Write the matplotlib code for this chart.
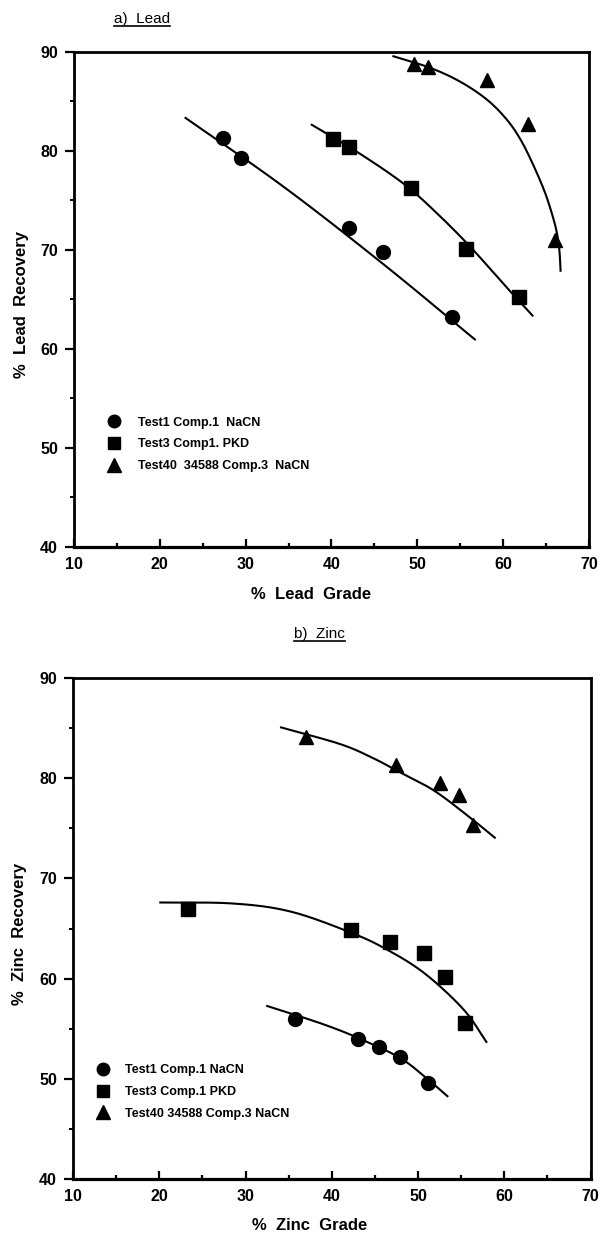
import numpy as np
import matplotlib
matplotlib.use("Agg")
import matplotlib.pyplot as plt
from matplotlib.lines import Line2D
from matplotlib.ticker import MultipleLocator
from matplotlib.font_manager import FontProperties

plt.rcParams["font.family"] = ["Liberation Sans", "DejaVu Sans"]
plt.rcParams["font.weight"] = "bold"

# ---------------- a) Lead ----------------
lead_t1_grade = [27.4, 29.5, 42.0, 46.0, 54.0]
lead_t1_rec = [81.3, 79.3, 72.2, 69.8, 63.2]
lead_t3_grade = [40.2, 42.1, 49.3, 55.7, 61.8]
lead_t3_rec = [81.2, 80.4, 76.3, 70.1, 65.3]
lead_t40_grade = [49.6, 51.3, 58.1, 62.9, 66.0]
lead_t40_rec = [88.8, 88.5, 87.2, 82.7, 71.0]

# grade-recovery trend curves
lead_t1_curve_x = [22.9, 34.4, 46.0, 56.8]
lead_t1_curve_y = [83.4, 76.4, 68.6, 60.9]
lead_t3_curve_x = [37.6, 43.0, 48.4, 52.3, 56.2, 59.7, 61.6, 63.5]
lead_t3_curve_y = [82.7, 79.9, 76.7, 73.7, 70.3, 66.9, 65.1, 63.3]
lead_t40_curve_x = [47.1, 51.5, 55.0, 58.1, 60.4, 62.0, 63.4, 64.7, 65.5, 66.2, 66.55, 66.7]
lead_t40_curve_y = [89.6, 88.4, 87.0, 85.2, 83.2, 81.2, 78.8, 76.2, 74.2, 72.0, 70.0, 67.8]

# ---------------- b) Zinc ----------------
zinc_t1_grade = [35.7, 43.0, 45.5, 47.9, 51.2]
zinc_t1_rec = [56.0, 54.0, 53.2, 52.2, 49.6]
zinc_t3_grade = [23.3, 42.2, 46.8, 50.7, 53.1, 55.5]
zinc_t3_rec = [66.9, 64.9, 63.7, 62.6, 60.2, 55.6]
zinc_t40_grade = [37.0, 47.5, 52.6, 54.8, 56.4]
zinc_t40_rec = [84.1, 81.3, 79.5, 78.3, 75.3]

zinc_t1_curve_x = [32.4, 35.7, 39.5, 43.0, 47.9, 51.2, 53.5]
zinc_t1_curve_y = [57.3, 56.4, 55.3, 54.1, 52.1, 49.9, 48.2]
zinc_t3_curve_x = [20.0, 28.5, 35.2, 42.2, 46.4, 50.8, 55.3, 58.0]
zinc_t3_curve_y = [67.6, 67.5, 66.7, 64.6, 62.9, 60.5, 56.9, 53.6]
zinc_t40_curve_x = [34.0, 41.0, 44.8, 47.9, 51.8, 55.7, 59.0]
zinc_t40_curve_y = [85.1, 83.4, 82.0, 80.6, 78.8, 76.3, 74.0]

lead_labels = ["Test1 Comp.1  NaCN", "Test3 Comp1. PKD", "Test40  34588 Comp.3  NaCN"]
zinc_labels = ["Test1 Comp.1 NaCN", "Test3 Comp.1 PKD", "Test40 34588 Comp.3 NaCN"]
tick_vals = [10, 20, 30, 40, 50, 60, 70]
rec_ticks = [40, 50, 60, 70, 80, 90]

markers = ["o", "s", "^"]
msizes = [10, 9.5, 10.5]
legend_family = ["Liberation Sans Narrow", "Liberation Sans", "DejaVu Sans"]


def smooth_path(xs, ys, steps=24):
    """Catmull-Rom curve passing through the given trend-line points."""
    p = np.column_stack([xs, ys]).astype(float)
    p = np.vstack([2 * p[0] - p[1], p, 2 * p[-1] - p[-2]])
    out = []
    t = np.linspace(0, 1, steps, endpoint=False)[:, None]
    for i in range(1, len(p) - 2):
        p0, p1, p2, p3 = p[i - 1], p[i], p[i + 1], p[i + 2]
        seg = 0.5 * ((2 * p1) + (-p0 + p2) * t
                     + (2 * p0 - 5 * p1 + 4 * p2 - p3) * t ** 2
                     + (-p0 + 3 * p1 - 3 * p2 + p3) * t ** 3)
        out.append(seg)
    out.append(p[-2][None, :])
    out = np.vstack(out)
    return out[:, 0], out[:, 1]


fig = plt.figure(figsize=(6, 12.35), dpi=100)
ax1 = fig.add_axes([0.1233, 0.5571, 0.8583, 0.4008])
ax2 = fig.add_axes([0.1217, 0.0453, 0.8625, 0.4057])


def style_axes(ax):
    ax.set_xlim(10, 70)
    ax.set_ylim(40, 90)
    ax.set_xticks(tick_vals)
    ax.set_yticks(rec_ticks)
    ax.xaxis.set_minor_locator(MultipleLocator(5))
    ax.yaxis.set_minor_locator(MultipleLocator(5))
    for s in ax.spines.values():
        s.set_linewidth(2.0)
    ax.spines["bottom"].set_linewidth(2.3)
    ax.tick_params(axis="x", which="major", direction="in", length=6, width=1.6,
                   pad=7, labelsize=11.5)
    ax.tick_params(axis="x", which="minor", direction="in", length=3, width=1.6)
    ax.tick_params(axis="y", which="major", direction="out", length=6.5, width=1.6,
                   pad=5, labelsize=11.5)
    ax.tick_params(axis="y", which="minor", direction="out", length=3, width=1.4)


def draw_panel(ax, series, curves, labels, legend_anchor, textpad):
    for (gx, gy), m, ms in zip(series, markers, msizes):
        ax.plot(gx, gy, linestyle="none", marker=m, markersize=ms, color="black",
                zorder=3, clip_on=False)
    for cx, cy in curves:
        sx, sy = smooth_path(cx, cy)
        ax.plot(sx, sy, color="black", linewidth=1.5, zorder=2,
                solid_capstyle="butt")
    handles = [Line2D([], [], linestyle="none", marker=m, markersize=ms - 1,
                      color="black") for m, ms in zip(markers, msizes)]
    ax.legend(handles, labels, loc="upper left", bbox_to_anchor=legend_anchor,
              frameon=False, handlelength=0.8, handletextpad=textpad,
              labelspacing=0.78, borderpad=0, borderaxespad=0,
              prop=FontProperties(family=legend_family, weight="bold", size=9))


style_axes(ax1)
style_axes(ax2)

draw_panel(ax1,
           [(lead_t1_grade, lead_t1_rec), (lead_t3_grade, lead_t3_rec),
            (lead_t40_grade, lead_t40_rec)],
           [(lead_t1_curve_x, lead_t1_curve_y), (lead_t3_curve_x, lead_t3_curve_y),
            (lead_t40_curve_x, lead_t40_curve_y)],
           lead_labels, (0.068, 0.2636), 1.5)
draw_panel(ax2,
           [(zinc_t1_grade, zinc_t1_rec), (zinc_t3_grade, zinc_t3_rec),
            (zinc_t40_grade, zinc_t40_rec)],
           [(zinc_t1_curve_x, zinc_t1_curve_y), (zinc_t3_curve_x, zinc_t3_curve_y),
            (zinc_t40_curve_x, zinc_t40_curve_y)],
           zinc_labels, (0.049, 0.229), 1.3)

label_font = dict(fontsize=12, fontweight="bold")
ax1.set_xlabel("%  Lead  Grade", **label_font)
ax1.xaxis.set_label_coords(0.461, -0.081)
ax1.xaxis.label.set_va("top")
ax1.set_ylabel("%  Lead  Recovery", **label_font)
ax1.yaxis.set_label_coords(-0.101, 0.49)
ax1.yaxis.label.set_va("center")

ax2.set_xlabel("%  Zinc  Grade", **label_font)
ax2.xaxis.set_label_coords(0.457, -0.078)
ax2.xaxis.label.set_va("top")
ax2.set_ylabel("%  Zinc  Recovery", **label_font)
ax2.yaxis.set_label_coords(-0.104, 0.49)
ax2.yaxis.label.set_va("center")

# underlined panel titles
titles = [("a)  Lead", 114 / 600, 1 - 23 / 1235), ("b)  Zinc", 294 / 600, 1 - 638 / 1235)]
title_texts = []
for txt, x, y in titles:
    t = fig.text(x, y, txt, ha="left", va="baseline", fontsize=11,
                 fontweight="normal", family=legend_family)
    title_texts.append(t)

fig.canvas.draw()
renderer = fig.canvas.get_renderer()
inv = fig.transFigure.inverted()
for t in title_texts:
    bb = t.get_window_extent(renderer)
    (x0, y0), (x1, y1) = inv.transform([(bb.x0, bb.y0), (bb.x1, bb.y1)])
    _, ybase = t.get_position()
    yline = ybase - 2.5 / 1235
    fig.add_artist(Line2D([x0, x1], [yline, yline], transform=fig.transFigure,
                          color="black", linewidth=1.2))

fig.savefig("out.png", dpi=100, facecolor="white")
